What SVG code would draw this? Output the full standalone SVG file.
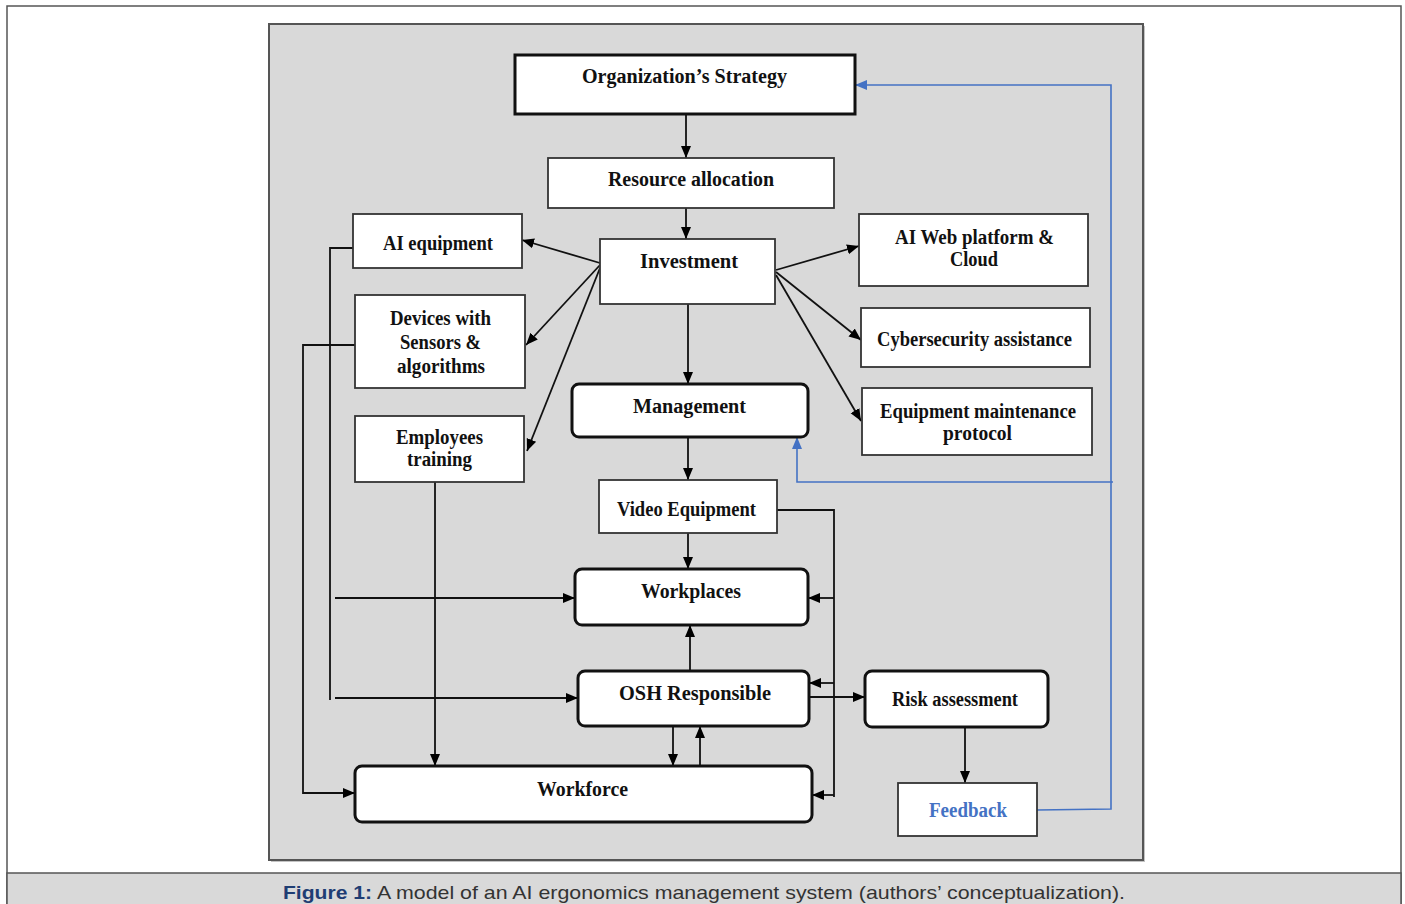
<svg xmlns="http://www.w3.org/2000/svg" width="1405" height="904" viewBox="0 0 1405 904">
<defs>
<marker id="ah" markerUnits="userSpaceOnUse" markerWidth="12" markerHeight="12" viewBox="0 0 12 12" refX="12" refY="6" orient="auto"><path d="M0,1 L12,6 L0,11 z" fill="#000"/></marker>
<marker id="ahb" markerUnits="userSpaceOnUse" markerWidth="12" markerHeight="12" viewBox="0 0 12 12" refX="12" refY="6" orient="auto"><path d="M0,1 L12,6 L0,11 z" fill="#4472c4"/></marker>
<style>
.t{font-family:"Liberation Serif","Times New Roman",serif;font-weight:bold;font-size:20px;fill:#111;text-anchor:start}
.thin{fill:#fff;stroke:#333;stroke-width:1.8}
.thick{fill:#fff;stroke:#111;stroke-width:3}
.c{fill:none;stroke:#111;stroke-width:1.8}
.b{fill:none;stroke:#4472c4;stroke-width:1.6}
</style>
</defs>
<rect x="7" y="6" width="1394" height="900" fill="#fff" stroke="#555" stroke-width="1.5"/>
<rect x="271" y="26" width="874" height="836" fill="#888" opacity="0.5"/>
<rect x="269" y="24" width="874" height="836" fill="#d9d9d9" stroke="#555" stroke-width="2"/>
<g id="connectors">
<path class="c" d="M686,114 V158" marker-end="url(#ah)"/>
<path class="c" d="M686,208 V239" marker-end="url(#ah)"/>
<path class="c" d="M600,263 L522,240" marker-end="url(#ah)"/>
<path class="c" d="M600,265 L526,345" marker-end="url(#ah)"/>
<path class="c" d="M600,268 L527,451" marker-end="url(#ah)"/>
<path class="c" d="M776,270 L859,246" marker-end="url(#ah)"/>
<path class="c" d="M776,272 L861,340" marker-end="url(#ah)"/>
<path class="c" d="M776,275 L861,421" marker-end="url(#ah)"/>
<path class="c" d="M688,304 V384" marker-end="url(#ah)"/>
<path class="c" d="M688,437 V480" marker-end="url(#ah)"/>
<path class="c" d="M688,533 V569" marker-end="url(#ah)"/>
<path class="c" d="M777,510 H834 V797"/>
<path class="c" d="M834,598 H808" marker-end="url(#ah)"/>
<path class="c" d="M834,683 H809" marker-end="url(#ah)"/>
<path class="c" d="M834,795 H812" marker-end="url(#ah)"/>
<path class="c" d="M353,248 H330 V700"/>
<path class="c" d="M335,598 H575" marker-end="url(#ah)"/>
<path class="c" d="M335,698 H578" marker-end="url(#ah)"/>
<path class="c" d="M355,345 H303 V793 H355" marker-end="url(#ah)"/>
<path class="c" d="M435,482 V766" marker-end="url(#ah)"/>
<path class="c" d="M690,671 V625" marker-end="url(#ah)"/>
<path class="c" d="M673,726 V766" marker-end="url(#ah)"/>
<path class="c" d="M700,766 V726" marker-end="url(#ah)"/>
<path class="c" d="M809,697 H865" marker-end="url(#ah)"/>
<path class="c" d="M965,727 V783" marker-end="url(#ah)"/>
<path class="b" d="M1037,810 L1111,809 V85 H855" marker-end="url(#ahb)"/>
<path class="b" d="M1113,482 H797 V437" marker-end="url(#ahb)"/>
</g>
<g id="strategy"><rect class="thick" x="515" y="55" width="340" height="59"/><text class="t" x="582" y="83" textLength="205" lengthAdjust="spacingAndGlyphs">Organization’s Strategy</text></g>
<g id="resource"><rect class="thin" x="548" y="158" width="286" height="50"/><text class="t" x="608" y="186" textLength="166" lengthAdjust="spacingAndGlyphs">Resource allocation</text></g>
<g id="investment"><rect class="thin" x="600" y="239" width="175" height="65"/><text class="t" x="640" y="268" textLength="98" lengthAdjust="spacingAndGlyphs">Investment</text></g>
<g id="ai-equipment"><rect class="thin" x="353" y="214" width="169" height="54"/><text class="t" x="383" y="250" textLength="110" lengthAdjust="spacingAndGlyphs">AI equipment</text></g>
<g id="devices"><rect class="thin" x="355" y="295" width="170" height="93"/><text class="t" x="390" y="325" textLength="101" lengthAdjust="spacingAndGlyphs">Devices with</text><text class="t" x="400" y="349" textLength="81" lengthAdjust="spacingAndGlyphs">Sensors &amp;</text><text class="t" x="397" y="373" textLength="88" lengthAdjust="spacingAndGlyphs">algorithms</text></g>
<g id="training"><rect class="thin" x="355" y="416" width="169" height="66"/><text class="t" x="396" y="444" textLength="87" lengthAdjust="spacingAndGlyphs">Employees</text><text class="t" x="407" y="466" textLength="65" lengthAdjust="spacingAndGlyphs">training</text></g>
<g id="web-platform"><rect class="thin" x="859" y="214" width="229" height="72"/><text class="t" x="895" y="244" textLength="159" lengthAdjust="spacingAndGlyphs">AI Web platform &amp;</text><text class="t" x="950" y="266" textLength="48" lengthAdjust="spacingAndGlyphs">Cloud</text></g>
<g id="cybersecurity"><rect class="thin" x="861" y="308" width="229" height="59"/><text class="t" x="877" y="346" textLength="195" lengthAdjust="spacingAndGlyphs">Cybersecurity assistance</text></g>
<g id="maintenance"><rect class="thin" x="862" y="388" width="230" height="67"/><text class="t" x="880" y="418" textLength="196" lengthAdjust="spacingAndGlyphs">Equipment maintenance</text><text class="t" x="943" y="440" textLength="69" lengthAdjust="spacingAndGlyphs">protocol</text></g>
<g id="management"><rect class="thick" x="572" y="384" width="236" height="53" rx="7"/><text class="t" x="633" y="413" textLength="113" lengthAdjust="spacingAndGlyphs">Management</text></g>
<g id="video"><rect class="thin" x="599" y="480" width="178" height="53"/><text class="t" x="617" y="516" textLength="139" lengthAdjust="spacingAndGlyphs">Video Equipment</text></g>
<g id="workplaces"><rect class="thick" x="575" y="569" width="233" height="56" rx="7"/><text class="t" x="641" y="598" textLength="100" lengthAdjust="spacingAndGlyphs">Workplaces</text></g>
<g id="osh"><rect class="thick" x="578" y="671" width="231" height="55" rx="7"/><text class="t" x="619" y="700" textLength="152" lengthAdjust="spacingAndGlyphs">OSH Responsible</text></g>
<g id="risk"><rect class="thick" x="865" y="671" width="183" height="56" rx="7"/><text class="t" x="892" y="706" textLength="126" lengthAdjust="spacingAndGlyphs">Risk assessment</text></g>
<g id="feedback"><rect class="thin" x="898" y="783" width="139" height="53"/><text class="t" x="929" y="817" textLength="78" lengthAdjust="spacingAndGlyphs" style="fill:#4472c4">Feedback</text></g>
<g id="workforce"><rect class="thick" x="355" y="766" width="457" height="56" rx="7"/><text class="t" x="537" y="796" textLength="91" lengthAdjust="spacingAndGlyphs">Workforce</text></g>
<g id="caption">
<rect x="7" y="873" width="1394" height="33" fill="#d9d9d9" stroke="#555" stroke-width="1.5"/>
<text x="283" y="899" font-family="Liberation Sans, Arial, sans-serif" font-size="19" font-weight="bold" fill="#1f3d73" textLength="89" lengthAdjust="spacingAndGlyphs">Figure 1:</text>
<text x="377" y="899" font-family="Liberation Sans, Arial, sans-serif" font-size="19" fill="#333" textLength="748" lengthAdjust="spacingAndGlyphs">A model of an AI ergonomics management system (authors’ conceptualization).</text>
</g>
</svg>
